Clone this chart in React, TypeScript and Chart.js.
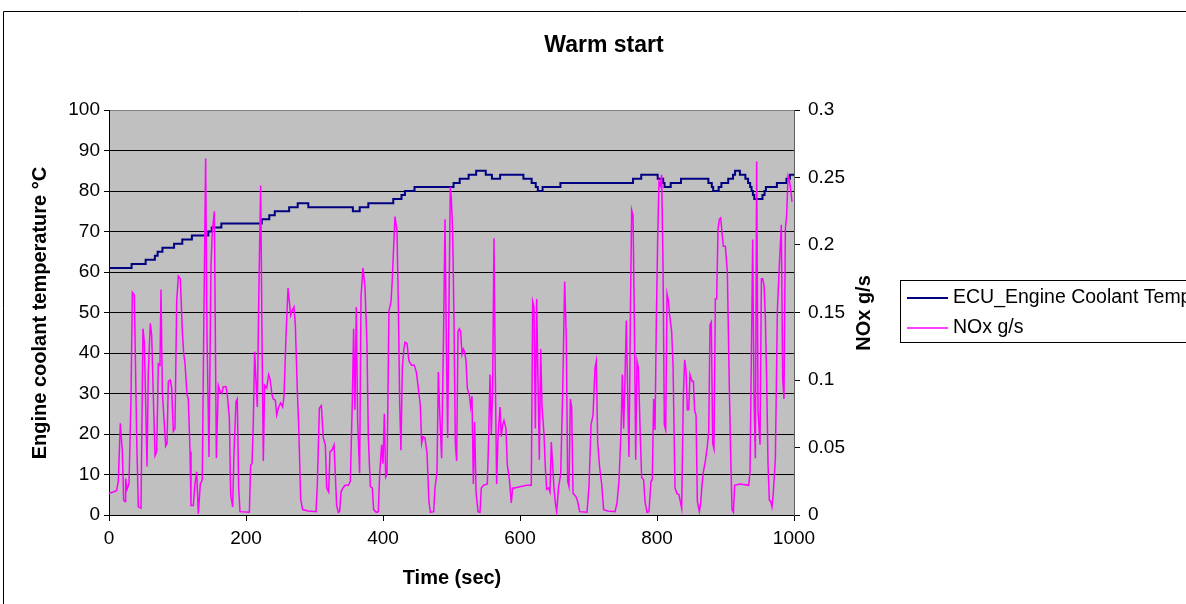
import React, { useEffect, useRef } from "react";
import { Chart, registerables } from "chart.js";

Chart.register(...registerables);

const W = 1186;
const H = 604;
const FONT = '"Liberation Sans", Arial, Helvetica, sans-serif';

const chartTitle = "Warm start";
const xAxisTitle = "Time (sec)";
const leftAxisTitle = "Engine coolant temperature °C";
const rightAxisTitle = "NOx g/s";
const seriesNames = ["ECU_Engine Coolant Temp", "NOx g/s"];

const xTickValues = [0, 200, 400, 600, 800, 1000];
const xTickLabels = ["0", "200", "400", "600", "800", "1000"];
const leftTickValues = [0, 10, 20, 30, 40, 50, 60, 70, 80, 90, 100];
const leftTickLabels = ["0", "10", "20", "30", "40", "50", "60", "70", "80", "90", "100"];
const rightTickValues = [0, 0.05, 0.1, 0.15, 0.2, 0.25, 0.3];
const rightTickLabels = ["0", "0.05", "0.1", "0.15", "0.2", "0.25", "0.3"];

// Coolant temperature: value holds from the given time until the next change
const tempTimes = [
  0, 33, 53.5, 67, 71, 78, 95, 107, 121, 145, 150, 164, 223, 234, 242, 263, 275.5, 291,
  356, 366, 378.6, 415, 427, 432, 446, 503, 512, 525, 536, 550, 559, 571, 605, 617, 623,
  626, 633, 659, 765, 777, 801, 809, 811, 820, 835, 875, 880, 882, 890, 894, 904, 911, 914,
  921, 929, 933, 936, 938, 940, 942, 954, 957, 959, 975, 989, 994, 1000,
];
const tempValues = [
  61, 62, 63, 64, 65, 66, 67, 68, 69, 70, 71, 72, 73, 74, 75, 76, 77, 76,
  75, 76, 77, 78, 79, 80, 81, 82, 83, 84, 85, 84, 83, 84, 83, 82, 81,
  80, 81, 82, 83, 84, 83, 82, 81, 82, 83, 82, 81, 80, 81, 82, 83, 84, 85,
  84, 83, 82, 81, 80, 79, 78, 79, 80, 81, 82, 83, 84, 84,
];

const noxTimes = [
  0, 6, 11, 13.6, 16.5, 19.5, 21.4, 23.4, 24.3, 26.3, 29.2, 32.1, 34.1, 37, 40.4, 42.8, 46.7,
  49.6, 51.6, 55.5, 57.4, 60.3, 62.3, 65.2, 67.2, 69.6, 72, 74.4, 75.9, 77.9, 80.8, 82.7, 84.7,
  86.6, 89.5, 91.5, 93.9, 96.3, 98.8, 101.2, 104.1, 107.1, 109, 111, 113.9, 115.8, 118.3, 119.7,
  123.1, 125.5, 128, 130.4, 133.3, 136.2, 138.2, 141.1, 143.1, 146, 148.9, 150.8, 153.8, 156.7,
  159.6, 162.5, 164.5, 166.9, 170.8, 172.7, 175.7, 177.6, 180.5, 182.5, 185.4, 187.3, 189.3,
  191.2, 204.9, 206.8, 208.8, 210.7, 212.6, 214.6, 216.5, 219, 221.4, 223.4, 225.3, 227.2, 230.2,
  233.1, 235, 238, 239.9, 242.8, 244.8, 247.7, 250.6, 253.5, 255.5, 258.4, 261.3, 263.3, 265.2,
  267.1, 270.1, 272, 275, 276.9, 279.8, 282.7, 291, 302.2, 304.1, 307.1, 310, 312.9, 315.8, 317.8,
  320.7, 322.6, 325.5, 328.5, 330.4, 332.3, 334.8, 336.7, 338.7, 341.6, 344.5, 349.4, 352.3,
  355.2, 357.1, 359.1, 361, 363, 365.9, 367.9, 370.8, 373.7, 376.6, 378.6, 381.5, 384.4, 386.3,
  390.2, 393.2, 395.1, 398, 400, 401.9, 403.9, 405.8, 408.7, 411.7, 413.6, 415.5, 417.5, 420.4,
  422.4, 424.3, 426.2, 428.2, 430.1, 432.1, 435, 437.9, 441.8, 445.7, 448.6, 451.6, 454.5, 456.4,
  458.4, 461.3, 464.2, 467.1, 469.1, 474, 475.9, 478.8, 480.8, 482.7, 485.6, 488.6, 490.5, 492.4,
  494.4, 496.3, 498.3, 499.7, 501.7, 503.6, 505.6, 507.5, 509.5, 511.4, 513.4, 515.3, 517.3,
  519.2, 521.2, 523.1, 526, 528, 529.9, 531.9, 533.8, 535.8, 538.7, 541.6, 543.5, 546.5, 552.3,
  554.2, 556.2, 558.1, 560.1, 562, 564, 565.9, 567.9, 570.8, 572.7, 574.7, 576.6, 579.5, 581.5,
  584.4, 587.3, 589.3, 592.2, 600, 609.7, 616.5, 618.5, 620.4, 622.4, 624.3, 626.3, 628.2, 630.2,
  632.1, 635, 637, 638.9, 641.8, 643.8, 645.7, 647.7, 649.6, 651.6, 653.5, 656.4, 659.4, 662.3,
  665.2, 667.6, 669.6, 671.5, 673.5, 675.4, 677.4, 681.3, 684.2, 687.1, 697.8, 700.7, 703.7,
  706.6, 709.5, 711.4, 713.4, 716.3, 719.2, 722.1, 728, 738.7, 741.6, 744.5, 747.5, 749.4, 751.3,
  753.3, 755.2, 757.2, 759.1, 761.1, 763, 765, 766.9, 768.9, 770.8, 772.8, 775.7, 777.6, 780.5,
  782.5, 785.4, 788.3, 791.2, 793.2, 795.1, 797.1, 799, 801, 802.9, 804.9, 806.8, 808.8, 810.7,
  812.7, 814.6, 816.6, 818.5, 821.4, 823.4, 826.3, 829.2, 832.1, 836, 838.5, 840.4, 842.4, 844.3,
  846.3, 848.2, 851.1, 853.1, 855, 857, 858.9, 861.8, 863.8, 865.7, 867.7, 870.6, 873.5, 875.5,
  877.4, 879.3, 881.3, 883.2, 885.2, 887.1, 889.1, 891, 893, 894.9, 896.9, 899.8, 902.7, 905.6,
  907.6, 909.5, 911.5, 913.4, 921.2, 933.8, 935.8, 937.7, 939.7, 941.6, 943.6, 945.5, 947.5,
  950.4, 952.4, 954.3, 956.3, 958.2, 960.1, 962.1, 964, 966, 967.9, 969.9, 972.8, 975.7, 978.6,
  981.5, 983.5, 985.4, 987.4, 989.3, 991.3, 993.2, 995.2, 997.1,
];
const noxValues = [
  0.016, 0.017, 0.018, 0.025, 0.068, 0.047, 0.011, 0.01, 0.027, 0.019, 0.023, 0.086, 0.165, 0.163, 0.057, 0.006, 0.005,
  0.138, 0.128, 0.036, 0.106, 0.142, 0.133, 0.079, 0.044, 0.047, 0.112, 0.111, 0.167, 0.091, 0.067, 0.051, 0.053,
  0.099, 0.1, 0.094, 0.062, 0.064, 0.158, 0.177, 0.175, 0.136, 0.12, 0.112, 0.089, 0.086, 0.047, 0.007,
  0.007, 0.023, 0.032, 0.001, 0.023, 0.026, 0.131, 0.264, 0.131, 0.043, 0.185, 0.21, 0.225, 0.042,
  0.096, 0.091, 0.09, 0.095, 0.095, 0.089, 0.072, 0.015, 0.006, 0.047, 0.084, 0.086, 0.02,
  0.0025, 0.002, 0.037, 0.038, 0.069, 0.121, 0.099, 0.08, 0.173, 0.244, 0.131, 0.04, 0.096, 0.094,
  0.104, 0.101, 0.089, 0.086, 0.085, 0.074, 0.08, 0.083, 0.08, 0.088, 0.133, 0.168, 0.158, 0.148,
  0.151, 0.154, 0.141, 0.091, 0.067, 0.012, 0.004, 0.003, 0.0025, 0.022, 0.079, 0.081, 0.057, 0.052, 0.02,
  0.017, 0.047, 0.048, 0.052, 0.03, 0.007, 0.002, 0.0025, 0.017, 0.02, 0.022, 0.022, 0.025,
  0.084, 0.138, 0.078, 0.154, 0.069, 0.031, 0.162, 0.183, 0.169, 0.126, 0.057, 0.021, 0.02, 0.004,
  0.002, 0.0025, 0.03, 0.052, 0.038, 0.075, 0.028, 0.03, 0.151, 0.158, 0.175, 0.198, 0.221, 0.211,
  0.156, 0.084, 0.048, 0.109, 0.121, 0.128, 0.127, 0.114, 0.111, 0.111, 0.106, 0.094, 0.081, 0.053,
  0.058, 0.057, 0.046, 0.01, 0.002, 0.0025, 0.02, 0.032, 0.106, 0.077, 0.042, 0.141, 0.219, 0.131,
  0.057, 0.156, 0.243, 0.235, 0.21, 0.146, 0.053, 0.04, 0.136, 0.138, 0.136, 0.119, 0.123,
  0.121, 0.114, 0.094, 0.089, 0.08, 0.088, 0.023, 0.069, 0.017, 0.0025, 0.002, 0.02, 0.022, 0.023,
  0.057, 0.104, 0.06, 0.094, 0.205, 0.101, 0.023, 0.058, 0.08, 0.058, 0.067, 0.07, 0.064, 0.037,
  0.027, 0.009, 0.02, 0.02, 0.021, 0.022, 0.022, 0.158, 0.154, 0.064, 0.16, 0.099, 0.041, 0.123,
  0.081, 0.06, 0.035, 0.019, 0.02, 0.017, 0.054, 0.037, 0.02, 0.009, 0.0025, 0.021, 0.03, 0.091,
  0.173, 0.131, 0.025, 0.021, 0.086, 0.08, 0.016, 0.014, 0.01, 0.0025, 0.002, 0.021, 0.067,
  0.074, 0.109, 0.114, 0.054, 0.035, 0.023, 0.004, 0.003, 0.0025, 0.009, 0.025, 0.062, 0.104, 0.064,
  0.101, 0.144, 0.089, 0.043, 0.146, 0.226, 0.222, 0.146, 0.041, 0.114, 0.109, 0.057, 0.028, 0.026,
  0.01, 0.002, 0.0025, 0.025, 0.026, 0.086, 0.063, 0.143, 0.205, 0.247, 0.244, 0.252, 0.185, 0.067,
  0.063, 0.164, 0.159, 0.148, 0.136, 0.111, 0.02, 0.016, 0.015, 0.005, 0.089, 0.115, 0.107, 0.078,
  0.078, 0.104, 0.099, 0.099, 0.077, 0.074, 0.01, 0.0025, 0.009, 0.022, 0.032, 0.04, 0.051, 0.062,
  0.141, 0.143, 0.053, 0.049, 0.16, 0.16, 0.212, 0.219, 0.22, 0.209, 0.199, 0.199, 0.18, 0.094,
  0.044, 0.004, 0.002, 0.022, 0.023, 0.022, 0.032, 0.114, 0.204, 0.089, 0.042, 0.262, 0.077,
  0.052, 0.175, 0.175, 0.17, 0.146, 0.099, 0.037, 0.011, 0.01, 0.006, 0.017, 0.042, 0.151, 0.185,
  0.215, 0.101, 0.086, 0.212, 0.222, 0.251, 0.248, 0.241, 0.232,
];

const tempColor = "#000080";
const noxColor = "#FF00FF";

function buildStepPoints(times: number[], values: number[]) {
  const pts: { x: number; y: number }[] = [];
  for (let i = 0; i < times.length; i++) {
    if (i > 0) pts.push({ x: times[i], y: values[i - 1] });
    pts.push({ x: times[i], y: values[i] });
  }
  return pts;
}

const decorPlugin = {
  id: "decor",
  beforeDraw(chart: any) {
    const { ctx, chartArea: a } = chart;
    ctx.save();
    ctx.fillStyle = "#ffffff";
    ctx.fillRect(0, 0, W, H);
    ctx.fillStyle = "#C0C0C0";
    ctx.fillRect(a.left, a.top, a.right - a.left, a.bottom - a.top);
    ctx.strokeStyle = "#000000";
    ctx.lineWidth = 1;
    ctx.beginPath();
    ctx.moveTo(3.5, H + 2);
    ctx.lineTo(3.5, 11.5);
    ctx.lineTo(W + 2, 11.5);
    ctx.stroke();
    ctx.restore();
  },
  afterDraw(chart: any) {
    const { ctx } = chart;
    ctx.save();
    ctx.fillStyle = "#000";
    ctx.textAlign = "center";
    ctx.textBaseline = "middle";
    ctx.font = `bold 23px ${FONT}`;
    ctx.fillText(chartTitle, 604, 46);
    ctx.font = `bold 20px ${FONT}`;
    ctx.fillText(xAxisTitle, 452, 578);
    ctx.save();
    ctx.translate(40, 313);
    ctx.rotate(-Math.PI / 2);
    ctx.fillText(leftAxisTitle, 0, 0);
    ctx.restore();
    ctx.save();
    ctx.translate(864, 313);
    ctx.rotate(-Math.PI / 2);
    ctx.fillText(rightAxisTitle, 0, 0);
    ctx.restore();

    // legend
    ctx.strokeStyle = "#000";
    ctx.lineWidth = 1;
    ctx.strokeRect(900.5, 280.5, 400, 62);
    const colors = [tempColor, noxColor];
    const widths = [2, 1.5];
    const ys = [298, 328];
    ctx.font = `19.5px ${FONT}`;
    ctx.textAlign = "left";
    for (let i = 0; i < 2; i++) {
      ctx.strokeStyle = colors[i];
      ctx.lineWidth = widths[i];
      ctx.beginPath();
      ctx.moveTo(907, ys[i]);
      ctx.lineTo(948, ys[i]);
      ctx.stroke();
      ctx.fillStyle = "#000";
      ctx.fillText(seriesNames[i], 953, ys[i]);
    }
    ctx.restore();
  },
};

export default function App() {
  const canvasRef = useRef<HTMLCanvasElement | null>(null);

  useEffect(() => {
    const canvas = canvasRef.current;
    if (!canvas) return;
    Chart.defaults.font.family = FONT;
    Chart.defaults.color = "#000";

    const chart = new Chart(canvas, {
      type: "line",
      data: {
        datasets: [
          {
            label: seriesNames[0],
            data: buildStepPoints(tempTimes, tempValues),
            yAxisID: "y",
            borderColor: tempColor,
            borderWidth: 2,
            pointRadius: 0,
            tension: 0,
            order: 1,
          },
          {
            label: seriesNames[1],
            data: noxTimes.map((t, i) => ({ x: t, y: noxValues[i] })),
            yAxisID: "y1",
            borderColor: noxColor,
            borderWidth: 1.5,
            pointRadius: 0,
            tension: 0,
            order: 0,
          },
        ],
      },
      options: {
        animation: false,
        responsive: false,
        devicePixelRatio: 1,
        layout: { padding: { top: 110, left: 0, right: 0, bottom: 0 } },
        plugins: {
          legend: { display: false },
          title: { display: false },
          tooltip: { enabled: false },
        },
        scales: {
          x: {
            type: "linear",
            min: 0,
            max: 1000,
            afterBuildTicks: (s: any) => {
              s.ticks = xTickValues.map((v) => ({ value: v }));
            },
            afterFit: (s: any) => {
              s.height = H - 515;
            },
            ticks: {
              font: { size: 19 },
              color: "#000",
              padding: 6,
              maxRotation: 0,
              autoSkip: false,
              callback: (_v: any, i: number) => xTickLabels[i],
            },
            grid: {
              drawOnChartArea: false,
              drawTicks: true,
              tickLength: 6,
              tickColor: "#000",
            },
            border: { color: "#000", width: 1 },
          },
          y: {
            type: "linear",
            position: "left",
            min: 0,
            max: 100,
            afterBuildTicks: (s: any) => {
              s.ticks = leftTickValues.map((v) => ({ value: v }));
            },
            afterFit: (s: any) => {
              s.width = 109;
            },
            ticks: {
              font: { size: 19 },
              color: "#000",
              padding: 4,
              autoSkip: false,
              callback: (_v: any, i: number) => leftTickLabels[i],
            },
            grid: {
              color: (c: any) => (c.tick && c.tick.value === 100 ? "#808080" : "#000000"),
              lineWidth: 1,
              drawTicks: true,
              tickLength: 5,
              tickColor: "#000",
            },
            border: { color: "#000", width: 1 },
          },
          y1: {
            type: "linear",
            position: "right",
            min: 0,
            max: 0.3,
            afterBuildTicks: (s: any) => {
              s.ticks = rightTickValues.map((v) => ({ value: v }));
            },
            afterFit: (s: any) => {
              s.width = W - 794;
            },
            ticks: {
              font: { size: 19 },
              color: "#000",
              padding: 8,
              autoSkip: false,
              callback: (_v: any, i: number) => rightTickLabels[i],
            },
            grid: {
              drawOnChartArea: false,
              drawTicks: true,
              tickLength: 6,
              tickColor: "#000",
            },
            border: { color: "#606060", width: 1 },
          },
        },
      },
      plugins: [decorPlugin],
    });
    return () => chart.destroy();
  }, []);

  return (
    <div
      style={{
        position: "fixed",
        left: 0,
        top: 0,
        width: W,
        height: H,
        overflow: "hidden",
        background: "#fff",
      }}
    >
      <canvas ref={canvasRef} width={W} height={H} style={{ display: "block", width: W, height: H }} />
    </div>
  );
}
